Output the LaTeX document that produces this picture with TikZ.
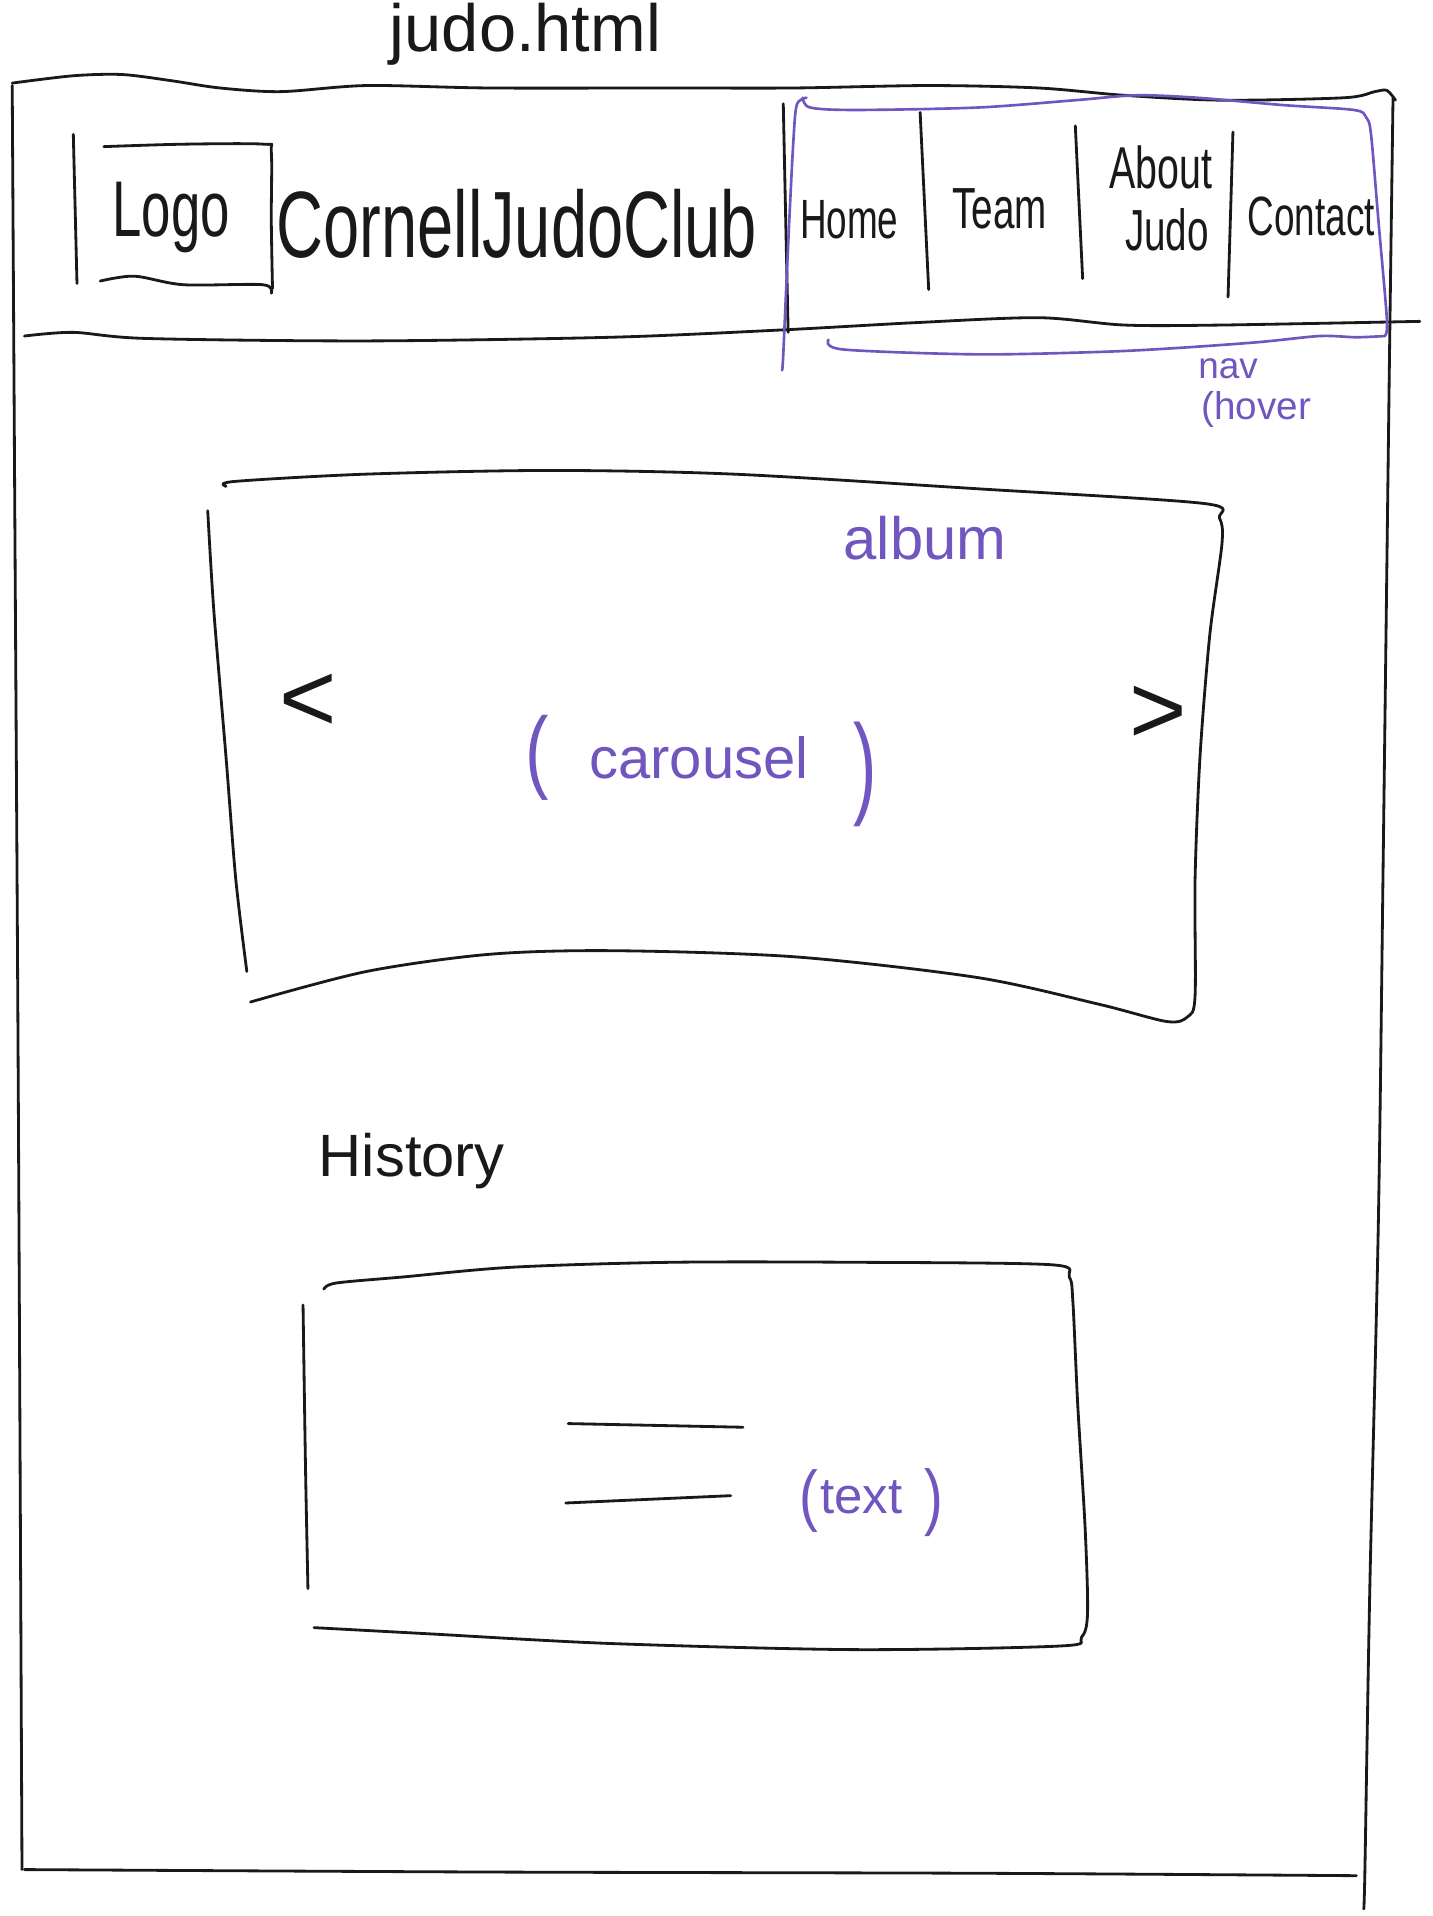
\documentclass[tikz,border=0pt]{standalone}
\usepackage{fontspec}
\setmainfont{Liberation Sans}
\usepackage{graphicx}
\definecolor{pen}{RGB}{25,25,25}
\definecolor{hlpurple}{RGB}{112,86,190}
\newcommand{\tallt}[2]{\scalebox{1}[#1]{#2}}
\begin{document}
\begin{tikzpicture}[x=0.012218cm,y=-0.012218cm,
  ink/.style={draw=pen,line width=0.8pt,line cap=round,line join=round},
  note/.style={draw=hlpurple,line width=0.75pt,line cap=round,line join=round},
  blk/.style={text=pen,inner sep=0pt},
  prp/.style={text=hlpurple,inner sep=0pt}]
\useasboundingbox (0,0) rectangle (1172,1568);
\fill[white] (0,0) rectangle (1172,1568);

% title
\node[blk,anchor=base,font=\fontsize{19}{22}\selectfont] (title) at (430,42) {judo.html};

% page outline
\draw[ink] plot[smooth] coordinates {(10,68) (60,62) (100,61) (140,66) (180,72) (230,75) (300,70) (400,72) (550,72) (650,72) (760,70) (850,72) (920,78) (1000,82) (1100,80) (1125,75) (1135,74) (1142,82)};
\draw[ink] plot[smooth] coordinates {(10,70) (12,400) (15,900) (18,1530)};
\draw[ink] plot[smooth] coordinates {(1140,80) (1137,300) (1132,700) (1128,1000) (1121,1300) (1117,1530) (1116,1562)};
\draw[ink] plot[smooth] coordinates {(20,1530) (400,1532) (800,1533) (1110,1535)};

% header bottom line
\draw[ink] plot[smooth] coordinates {(20,275) (60,272) (120,277) (300,279) (500,276) (640,270) (750,264) (850,260) (920,266) (1000,266) (1162,263)};

% logo box
\draw[ink] (60,110) -- (63,232);
\draw[ink] plot[smooth] coordinates {(85,120) (150,118) (216,118) (222,124) (222,180) (223,236)};
\draw[ink] plot[smooth] coordinates {(82,230) (110,226) (150,233) (215,233) (222,240)};
\node[blk,font=\fontsize{15}{18}\selectfont] (logo) at (140,178) {\tallt{1.5}{Logo}};

% club name
\node[blk,font=\fontsize{18.5}{22}\selectfont] (club) at (423,183) {\tallt{1.45}{CornellJudoClub}};

% nav
\draw[ink] plot[smooth] coordinates {(641,85) (643,180) (645,272)};
\draw[ink] (753,92) -- (760,237);
\draw[ink] (880,103) -- (886,228);
\draw[ink] (1009,108) -- (1005,243);
\node[blk,font=\fontsize{10.5}{13}\selectfont] (home) at (695,180) {\tallt{1.5}{Home}};
\node[blk,font=\fontsize{11}{13}\selectfont] (team) at (818,171) {\tallt{1.5}{Team}};
\node[blk,font=\fontsize{11.2}{13}\selectfont] (about) at (950,137) {\tallt{1.5}{About}};
\node[blk,font=\fontsize{11}{13}\selectfont] (judo) at (955,188) {\tallt{1.5}{Judo}};
\node[blk,font=\fontsize{10.5}{13}\selectfont] (contact) at (1073,177) {\tallt{1.5}{Contact}};

% purple nav bracket
\draw[note] plot[smooth] coordinates {(660,80) (652,86) (649,120) (645,200) (641,290) (640,303)};
\draw[note] plot[smooth] coordinates {(657,80) (663,88) (700,90) (800,88) (880,82) (930,78) (980,80) (1050,86) (1108,90) (1118,96) (1122,110) (1128,180) (1135,262) (1133,275)};
\draw[note] plot[smooth] coordinates {(678,278) (690,286) (800,290) (900,288) (960,285) (1030,280) (1080,275) (1110,276) (1133,275)};
\node[prp,font=\fontsize{10.5}{12}\selectfont] (navnote) at (1005,302) {nav};
\node[prp,font=\fontsize{11}{13}\selectfont] (hovernote) at (1028,335) {(hover};

% album box
\draw[ink] plot[smooth] coordinates {(185,398) (192,394) (300,388) (450,385) (600,388) (800,400) (985,412) (998,424) (1000,445) (990,520) (982,620) (978,720) (978,815) (972,832) (955,836) (900,822) (800,800) (650,783) (500,778) (400,781) (300,795) (205,820)};
\draw[ink] plot[smooth] coordinates {(170,418) (175,500) (185,620) (193,720) (202,795)};
\node[prp,font=\fontsize{17}{20}\selectfont] (album) at (757,440) {album};
\node[blk,font=\fontsize{28}{30}\selectfont] (prev) at (252,575) {<};
\node[blk,font=\fontsize{28}{30}\selectfont] (next) at (948,585) {>};
\node[prp,font=\fontsize{20}{24}\selectfont] (lpar) at (440,620) {\tallt{1.3}{(}};
\node[prp,font=\fontsize{16.5}{20}\selectfont] (carousel) at (572,620) {carousel};
\node[prp,font=\fontsize{20}{24}\selectfont] (rpar) at (708,634) {\tallt{1.6}{)}};

% history
\node[blk,font=\fontsize{17}{20}\selectfont] (history) at (337,950) {History};
\draw[ink] plot[smooth] coordinates {(265,1055) (275,1050) (330,1045) (420,1037) (550,1033) (700,1033) (860,1035) (875,1045) (878,1065) (882,1150) (888,1250) (890,1320) (885,1340) (868,1347) (700,1350) (500,1345) (350,1337) (257,1332)};
\draw[ink] plot[smooth] coordinates {(248,1068) (250,1200) (252,1300)};
\draw[ink] (465,1165) -- (608,1168);
\draw[ink] (463,1230) -- (598,1224);
\node[prp,font=\fontsize{16}{19}\selectfont] (tlpar) at (662,1228) {\tallt{1.2}{(}};
\node[prp,font=\fontsize{14.5}{17}\selectfont] (textnote) at (705,1225) {text};
\node[prp,font=\fontsize{16}{19}\selectfont] (trpar) at (764,1230) {\tallt{1.3}{)}};
\end{tikzpicture}
\end{document}
